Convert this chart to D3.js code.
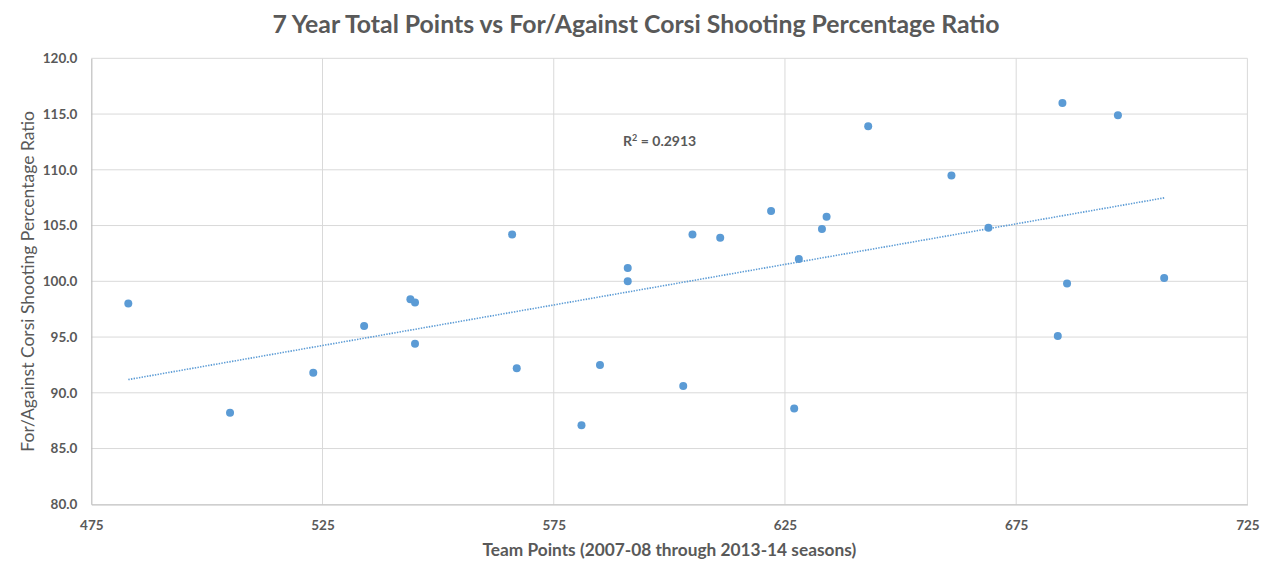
<!DOCTYPE html>
<html>
<head>
<meta charset="utf-8">
<script src="https://cdn.jsdelivr.net/npm/d3@7"></script>
<style>
  html, body { margin: 0; padding: 0; background: #fff; }
  svg { display: block; }
</style>
</head>
<body>
<svg id="chart" width="1272" height="577"></svg>
<script>
// ---- Data ----
const teamPoints = [483, 505, 523, 534, 544, 545, 545, 566, 567, 581, 585, 591, 591, 603, 605, 611, 622, 627, 628, 633, 634, 643, 661, 669, 685, 697, 686, 707, 684];
const corsiRatio = [98.0, 88.2, 91.8, 96.0, 98.4, 98.1, 94.4, 104.2, 92.2, 87.1, 92.5, 101.2, 100.0, 90.6, 104.2, 103.9, 106.3, 88.6, 102.0, 104.7, 105.8, 113.9, 109.5, 104.8, 116.0, 114.9, 99.8, 100.3, 95.1];
const xTicks = [475, 525, 575, 625, 675, 725];
const yTicks = [80, 85, 90, 95, 100, 105, 110, 115, 120];
const titleText = "7 Year Total Points vs For/Against Corsi Shooting Percentage Ratio";
const xTitle = "Team Points (2007-08 through 2013-14 seasons)";
const yTitle = "For/Against Corsi Shooting Percentage Ratio";
const r2Label = "0.2913";
const r2Pos = [590, 112.1];

// ---- Layout ----
const W = 1272, H = 577;
const m = { left: 91.3, top: 58.3, right: 24.6, bottom: 72.7 };
const iw = W - m.left - m.right, ih = H - m.top - m.bottom;
const textColor = "#595959";
const dotColor = "#5B9BD5";
const font = "Lato, 'Open Sans', sans-serif";

const svg = d3.select("#chart");
svg.append("rect").attr("width", W).attr("height", H).attr("fill", "#fff");

const x = d3.scaleLinear().domain([475, 725]).range([0, iw]);
const y = d3.scaleLinear().domain([80, 120]).range([ih, 0]);

const g = svg.append("g").attr("transform", `translate(${m.left},${m.top})`);

// gridlines
g.append("g").selectAll("line.h").data(yTicks.slice(1)).join("line")
  .attr("x1", 0).attr("x2", iw)
  .attr("y1", d => y(d)).attr("y2", d => y(d))
  .attr("stroke", "#D9D9D9").attr("stroke-width", 1);
g.append("g").selectAll("line.v").data(xTicks.slice(1)).join("line")
  .attr("y1", 0).attr("y2", ih)
  .attr("x1", d => x(d)).attr("x2", d => x(d))
  .attr("stroke", "#D9D9D9").attr("stroke-width", 1);

// axes
const xAxis = g.append("g").attr("transform", `translate(0,${ih})`)
  .call(d3.axisBottom(x).tickValues(xTicks).tickSize(0).tickPadding(16).tickFormat(d3.format("d")));
const yAxis = g.append("g")
  .call(d3.axisLeft(y).tickValues(yTicks).tickSize(0).tickPadding(14).tickFormat(d3.format(".1f")));
[xAxis, yAxis].forEach(a => {
  a.select(".domain").attr("stroke", "#BFBFBF").attr("stroke-width", 1.2);
  a.selectAll("text").attr("fill", textColor).attr("font-family", font)
    .attr("font-size", 13.5).attr("font-weight", "bold");
});

// trendline (least squares from data)
const n = teamPoints.length;
const mx = d3.mean(teamPoints), my = d3.mean(corsiRatio);
let sxy = 0, sxx = 0;
for (let i = 0; i < n; i++) { sxy += (teamPoints[i]-mx)*(corsiRatio[i]-my); sxx += (teamPoints[i]-mx)**2; }
const slope = sxy / sxx, icpt = my - slope * mx;
const [x0, x1] = d3.extent(teamPoints);
g.append("line")
  .attr("x1", x(x0)).attr("y1", y(icpt + slope*x0))
  .attr("x2", x(x1)).attr("y2", y(icpt + slope*x1))
  .attr("stroke", dotColor).attr("stroke-width", 1.6)
  .attr("stroke-dasharray", "1.4,1.3");

// points
g.append("g").selectAll("circle").data(teamPoints.map((d, i) => [d, corsiRatio[i]])).join("circle")
  .attr("cx", d => x(d[0])).attr("cy", d => y(d[1])).attr("r", 4)
  .attr("fill", dotColor);

// R² label
const r2 = g.append("text").attr("x", x(r2Pos[0])).attr("y", y(r2Pos[1]))
  .attr("fill", textColor).attr("font-family", font).attr("font-size", 14).attr("font-weight", "bold");
r2.append("tspan").text("R");
r2.append("tspan").attr("dy", -5).attr("font-size", 9).text("2");
r2.append("tspan").attr("dy", 5).text(" = " + r2Label);

// titles
svg.append("text").attr("x", W/2).attr("y", 33).attr("text-anchor", "middle")
  .attr("fill", textColor).attr("font-family", font).attr("font-size", 24.8).attr("font-weight", "bold")
  .text(titleText);
svg.append("text").attr("x", m.left + iw/2).attr("y", 556).attr("text-anchor", "middle")
  .attr("fill", textColor).attr("font-family", font).attr("font-size", 17.3).attr("font-weight", "bold")
  .text(xTitle);
svg.append("text").attr("transform", `translate(34,${m.top + ih/2}) rotate(-90)`).attr("text-anchor", "middle")
  .attr("fill", textColor).attr("font-family", font).attr("font-size", 17.5)
  .text(yTitle);
</script>
</body>
</html>
